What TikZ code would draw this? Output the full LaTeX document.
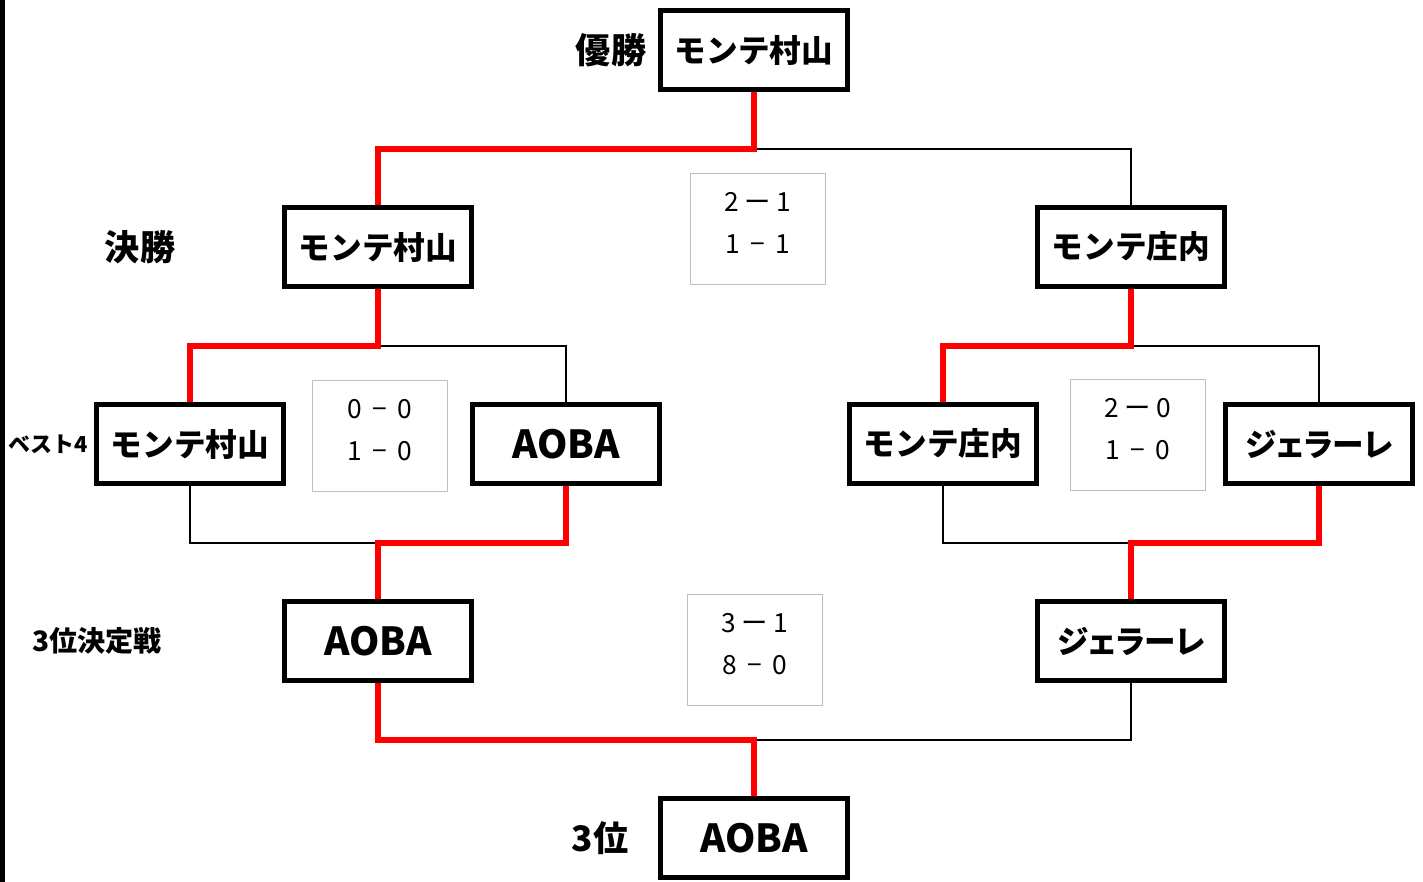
\documentclass[tikz,border=0pt]{standalone}
\usepackage{fontspec}
\setmainfont{Noto Sans CJK JP}
\newfontfamily\proptext[RawFeature=+palt]{Noto Sans CJK JP}
\usetikzlibrary{positioning}
\newcommand{\dw}{\hspace{3pt}ー\hspace{3pt}}
\newcommand{\dn}{\hspace{5.8pt}−\hspace{5.8pt}}

\begin{document}
\begin{tikzpicture}[x=0.02cm,y=-0.02cm,
    team/.style={draw, line width=3.1pt, minimum width=3.75cm, minimum height=1.59cm, inner sep=0pt, font=\bfseries\fontsize{18}{20}\selectfont},
    latin/.style={team, font=\bfseries\fontsize{22}{24}\selectfont},
    kana/.style={team, font=\proptext\bfseries\fontsize{18}{20}\selectfont},
    score/.style={draw=black!25, line width=0.6pt, minimum width=2.7cm, minimum height=2.22cm, inner sep=0pt, text depth=7pt, align=center, font=\fontsize{15}{23.8}\selectfont},
    lab/.style={font=\bfseries\fontsize{20}{22}\selectfont},
    win/.style={draw=red, line width=3.1pt},
    lose/.style={draw=black, line width=1.1pt}]
    \useasboundingbox (0,0) rectangle (1423,882);
    \fill (0,0) rectangle (5,882);

    % teams
    \node[team] (champ) at (754,50) {モンテ村山};
    \node[team] (fl) at (378,247) {モンテ村山};
    \node[team] (fr) at (1131,247) {モンテ庄内};
    \node[team] (sl1) at (190,444) {モンテ村山};
    \node[latin] (sl2) at (566,444) {AOBA};
    \node[team] (sr1) at (943,444) {モンテ庄内};
    \node[kana] (sr2) at (1319,444) {ジェラーレ};
    \node[latin] (tl) at (378,641) {AOBA};
    \node[kana] (tr) at (1131,641) {ジェラーレ};
    \node[latin] (third) at (754,838) {AOBA};

    % scores
    \node[score] (sc1) at (758,229) {2\dw 1\\1\dn 1};
    \node[score] (sc2) at (380,436) {0\dn 0\\1\dn 0};
    \node[score] (sc3) at (1138,435) {2\dw 0\\1\dn 0};
    \node[score] (sc4) at (755,650) {3\dw 1\\8\dn 0};

    % round labels
    \node[lab] (lchamp) at (611,50) {優勝};
    \node[lab] (lfinal) at (140,247) {決勝};
    \node[lab, font=\bfseries\fontsize{12.5}{14}\selectfont] (lbest) at (48,444) {ベスト4};
    \node[lab, font=\bfseries\fontsize{16}{18}\selectfont] (lplay) at (97,641) {3位決定戦};
    \node[lab] (lthird) at (600,838) {3位};

    % junctions
    \coordinate (j1) at (754,149);
    \coordinate (j2) at (378,346);
    \coordinate (j3) at (1131,346);
    \coordinate (j4) at (378,543);
    \coordinate (j5) at (1131,543);
    \coordinate (j6) at (754,740);

    \draw[lose] (j1) -| (fr.north);
    \draw[win] (champ.south) -- (j1) -| (fl.north);
    \draw[lose] (j2) -| (sl2.north);
    \draw[win] (fl.south) -- (j2) -| (sl1.north);
    \draw[lose] (j3) -| (sr2.north);
    \draw[win] (fr.south) -- (j3) -| (sr1.north);
    \draw[lose] (sl1.south) |- (j4);
    \draw[win] (sl2.south) |- (j4) -- (tl.north);
    \draw[lose] (sr1.south) |- (j5);
    \draw[win] (sr2.south) |- (j5) -- (tr.north);
    \draw[lose] (tr.south) |- (j6);
    \draw[win] (tl.south) |- (j6) -- (third.north);
\end{tikzpicture}
\end{document}
